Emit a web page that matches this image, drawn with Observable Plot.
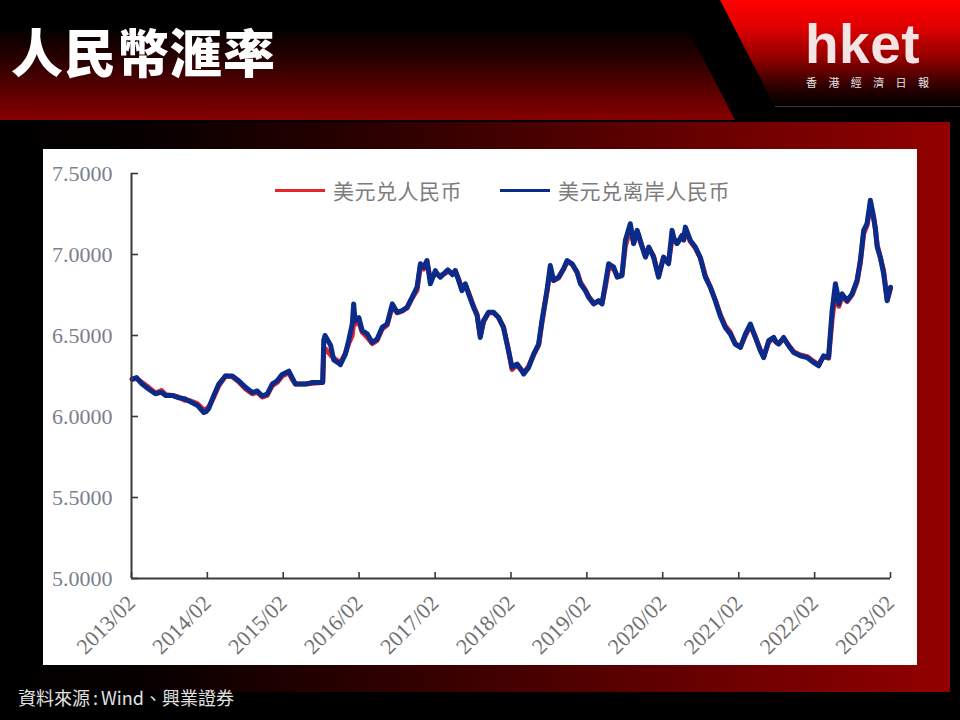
<!DOCTYPE html>
<html><head><meta charset="utf-8">
<script src="https://cdn.jsdelivr.net/npm/d3@7"></script>
<script src="https://cdn.jsdelivr.net/npm/@observablehq/plot@0.6"></script>
<style>
html,body{margin:0;padding:0;background:#000;}
#page{position:relative;width:960px;height:720px;overflow:hidden;background:#000;font-family:"Noto Sans CJK TC","Noto Sans CJK SC",sans-serif;}
.hdr{position:absolute;left:0;top:0;width:960px;height:120px;clip-path:polygon(0 0,673px 0,735px 120px,0 120px);background:linear-gradient(to bottom,#000 0%,#000 22%,#2a0000 50%,#5a0000 75%,#860000 100%);}
.logo-bg{position:absolute;left:0;top:0;width:960px;height:107px;clip-path:polygon(720px 0,960px 0,960px 107px,775px 107px);background:linear-gradient(to bottom,#ff0000 0%,#e00000 25%,#900000 55%,#300000 80%,#000 100%);}
.logo-line{position:absolute;left:775px;top:106px;width:185px;height:1px;background:#3a3a3a;}
.title{position:absolute;left:11px;top:25px;font-size:52px;line-height:1;font-weight:900;color:#fff;letter-spacing:1px;white-space:nowrap;}
.hket{position:absolute;left:805px;top:17px;font-family:"Liberation Sans","Open Sans",sans-serif;font-size:55px;font-weight:700;line-height:55px;color:#f5e4e4;letter-spacing:0.5px;white-space:nowrap;}
.hket-sub{position:absolute;left:806px;top:77px;font-size:11px;line-height:11px;color:#e6e6e6;letter-spacing:11.4px;white-space:nowrap;}
.panel{position:absolute;left:0;top:122px;width:950px;height:570px;background:linear-gradient(to right,#000 0%,#060000 14%,#300000 42%,#6a0000 75%,#920000 100%);}
.white{position:absolute;left:43px;top:149px;width:874px;height:516px;background:#fff;}
.legend{position:absolute;top:178px;height:24px;display:flex;align-items:center;font-family:"Noto Sans CJK SC",sans-serif;font-size:21px;color:#7c7c7c;letter-spacing:0.5px;white-space:nowrap;}
.legend .sw{display:inline-block;width:50px;height:3px;margin-right:8px;}
.caption{position:absolute;left:18px;top:687px;font-size:18px;line-height:1.2;color:#e2e2e2;white-space:nowrap;}
.caption .colon{margin:0 3px;}
</style>
</head><body>
<div id="page">
  <div class="hdr"></div>
  <div class="logo-bg"></div>
  <div class="logo-line"></div>
  <div class="title">人民幣滙率</div>
  <div class="hket">hket</div>
  <div class="hket-sub">香港經濟日報</div>
  <div class="panel"></div>
  <div class="white"><div id="chart"></div></div>
  <div class="legend" style="left:275px"><span class="sw" style="background:#e3262b"></span>美元兑人民币</div>
  <div class="legend" style="left:500px"><span class="sw" style="background:#0a2b8a"></span>美元兑离岸人民币</div>
  <div class="caption">資料來源<span class="colon">:</span>Wind、興業證券</div>
</div>
<script>
// ---- data ----
const dates = [
"2013-02-04","2013-02-25","2013-03-24","2013-04-24","2013-05-27","2013-06-25","2013-07-15","2013-08-17","2013-09-17","2013-10-15",
"2013-11-04","2013-12-14","2014-01-15","2014-01-26","2014-02-08","2014-03-04","2014-03-28","2014-04-29","2014-06-01","2014-07-02",
"2014-08-04","2014-09-05","2014-09-29","2014-10-23","2014-11-16","2014-12-10","2015-01-03","2015-01-27","2015-02-28","2015-03-16",
"2015-04-01","2015-05-19","2015-06-22","2015-08-04","2015-08-10","2015-08-15","2015-08-21","2015-09-17","2015-10-02","2015-10-26",
"2015-11-03","2015-11-27","2015-12-13","2015-12-30","2016-01-06","2016-01-13","2016-01-31","2016-02-16","2016-03-11","2016-04-04",
"2016-04-28","2016-05-22","2016-06-15","2016-07-10","2016-08-02","2016-08-26","2016-09-19","2016-10-13","2016-11-06","2016-11-22",
"2016-12-08","2016-12-24","2017-01-09","2017-02-02","2017-02-14","2017-02-26","2017-03-22","2017-04-03","2017-04-15","2017-04-26",
"2017-05-09","2017-05-25","2017-06-10","2017-06-26","2017-07-12","2017-08-05","2017-08-22","2017-09-06","2017-09-22","2017-10-16",
"2017-11-09","2017-12-03","2017-12-27","2018-01-20","2018-02-06","2018-03-02","2018-03-26","2018-04-03","2018-04-27","2018-05-21",
"2018-06-14","2018-06-30","2018-07-24","2018-08-09","2018-08-25","2018-09-18","2018-10-12","2018-10-29","2018-11-22","2018-12-16",
"2019-01-01","2019-01-25","2019-02-10","2019-03-06","2019-03-30","2019-04-15","2019-05-01","2019-05-17","2019-06-10","2019-06-27",
"2019-07-20","2019-08-05","2019-08-29","2019-09-05","2019-09-14","2019-10-01","2019-10-08","2019-10-16","2019-11-10","2019-11-26",
"2019-12-19","2020-01-12","2020-02-05","2020-02-29","2020-03-17","2020-03-26","2020-04-10","2020-05-04","2020-05-12","2020-05-20",
"2020-06-13","2020-07-07","2020-07-31","2020-08-24","2020-09-17","2020-10-11","2020-11-04","2020-11-28","2020-12-22","2021-01-15",
"2021-02-09","2021-03-05","2021-03-29","2021-04-22","2021-05-16","2021-06-01","2021-06-25","2021-07-19","2021-07-30","2021-08-12",
"2021-09-05","2021-09-29","2021-10-23","2021-11-24","2021-12-27","2022-01-27","2022-02-20","2022-03-16","2022-04-09","2022-04-26",
"2022-05-12","2022-05-20","2022-05-28","2022-06-13","2022-07-07","2022-07-31","2022-08-24","2022-09-09","2022-09-25","2022-10-11",
"2022-10-19","2022-10-27","2022-11-12","2022-11-20","2022-11-29","2022-12-14","2022-12-30","2023-01-16","2023-01-24","2023-02-01"
];
const offshore = [
6.23,6.24,6.20,6.17,6.14,6.15,6.13,6.13,6.115,6.11,
6.095,6.07,6.025,6.03,6.05,6.13,6.20,6.25,6.25,6.22,
6.18,6.148,6.158,6.127,6.138,6.20,6.22,6.26,6.28,6.24,
6.20,6.20,6.21,6.21,6.21,6.47,6.50,6.44,6.35,6.33,
6.32,6.385,6.47,6.57,6.695,6.59,6.61,6.53,6.51,6.457,
6.478,6.55,6.571,6.695,6.643,6.653,6.674,6.736,6.798,6.943,
6.922,6.963,6.819,6.90,6.875,6.86,6.891,6.905,6.891,6.875,
6.90,6.84,6.777,6.819,6.757,6.674,6.623,6.488,6.592,6.643,
6.643,6.612,6.55,6.406,6.303,6.324,6.282,6.262,6.303,6.385,
6.447,6.592,6.777,6.932,6.84,6.86,6.912,6.963,6.943,6.891,
6.819,6.777,6.736,6.695,6.715,6.695,6.819,6.943,6.922,6.86,
6.87,7.087,7.19,7.14,7.067,7.149,7.12,7.087,6.984,7.046,
6.984,6.86,6.984,6.943,7.149,7.10,7.067,7.118,7.09,7.169,
7.087,7.046,6.98,6.86,6.798,6.715,6.62,6.55,6.51,6.447,
6.426,6.51,6.571,6.488,6.406,6.364,6.468,6.488,6.46,6.447,
6.488,6.437,6.395,6.375,6.364,6.334,6.313,6.375,6.364,6.653,
6.819,6.77,6.695,6.757,6.715,6.757,6.84,6.963,7.149,7.19,
7.26,7.335,7.231,7.16,7.046,6.984,6.881,6.715,6.76,6.798
];
const onshore = [
6.23,6.235,6.21,6.18,6.145,6.16,6.135,6.13,6.12,6.10,
6.10,6.08,6.04,6.045,6.06,6.12,6.19,6.25,6.245,6.215,
6.17,6.14,6.15,6.12,6.13,6.19,6.21,6.25,6.27,6.23,
6.20,6.20,6.205,6.21,6.21,6.40,6.42,6.38,6.36,6.34,
6.33,6.39,6.45,6.50,6.58,6.57,6.58,6.52,6.49,6.45,
6.47,6.54,6.565,6.68,6.64,6.65,6.67,6.73,6.78,6.93,
6.91,6.95,6.85,6.88,6.875,6.87,6.885,6.895,6.89,6.88,
6.90,6.85,6.79,6.815,6.765,6.68,6.63,6.50,6.585,6.64,
6.64,6.61,6.55,6.41,6.29,6.32,6.28,6.27,6.31,6.38,
6.44,6.58,6.77,6.90,6.84,6.855,6.91,6.955,6.94,6.89,
6.83,6.78,6.74,6.70,6.71,6.70,6.80,6.92,6.91,6.87,
6.875,7.05,7.16,7.13,7.07,7.14,7.12,7.08,6.99,7.04,
6.99,6.87,6.98,6.95,7.10,7.09,7.07,7.11,7.09,7.15,
7.08,7.04,6.98,6.87,6.80,6.72,6.63,6.56,6.52,6.45,
6.43,6.50,6.56,6.49,6.41,6.37,6.46,6.48,6.46,6.45,
6.48,6.44,6.40,6.38,6.37,6.34,6.32,6.37,6.36,6.60,
6.77,6.75,6.68,6.74,6.71,6.75,6.83,6.95,7.13,7.18,
7.24,7.28,7.22,7.16,7.06,6.98,6.90,6.72,6.75,6.79
];
const yTicks = [5.0, 5.5, 6.0, 6.5, 7.0, 7.5];
const xTickLabels = ["2013/02","2014/02","2015/02","2016/02","2017/02","2018/02","2019/02","2020/02","2021/02","2022/02","2023/02"];

// ---- build ----
const parse = d3.utcParse("%Y-%m-%d");
const parseTick = d3.utcParse("%Y/%m");
const n = Math.min(dates.length, offshore.length, onshore.length);
const data = dates.slice(0, n).map((d, i) => ({date: parse(d), onshore: onshore[i], offshore: offshore[i]}));
const xTicks = xTickLabels.map(parseTick);
const axisColor = "#3a3a3a";

const chart = Plot.plot({
  width: 874,
  height: 516,
  marginLeft: 88,
  marginRight: 27,
  marginTop: 24,
  marginBottom: 87,
  style: {fontFamily: "'Liberation Serif','Times New Roman',serif", fontSize: "22px", background: "transparent", overflow: "visible"},
  x: {type: "utc", domain: [xTicks[0], xTicks[xTicks.length - 1]]},
  y: {domain: [5, 7.5]},
  marks: [
    Plot.line(data, {x: "date", y: "onshore", stroke: "#e3262b", strokeWidth: 5, strokeLinejoin: "round", strokeLinecap: "round"}),
    Plot.line(data, {x: "date", y: "offshore", stroke: "#0a2b8a", strokeWidth: 5, strokeLinejoin: "round", strokeLinecap: "round"}),
    Plot.ruleX([xTicks[0]], {stroke: axisColor, strokeWidth: 2}),
    Plot.ruleY([5], {stroke: axisColor, strokeWidth: 2}),
    Plot.axisY(yTicks, {tickSize: 7, insetLeft: 7, tickFormat: () => "", stroke: axisColor, strokeWidth: 1.6, label: null}),
    Plot.axisY(yTicks, {tickSize: 0, tickPadding: 19, tickFormat: d => d.toFixed(4), fill: "#7a808c", label: null}),
    Plot.axisX(xTicks, {tickSize: 6, insetBottom: 6, tickFormat: () => "", stroke: axisColor, strokeWidth: 1.6, label: null}),
    Plot.axisX(xTicks, {tickSize: 0, tickPadding: 26, tickRotate: -45, textAnchor: "end", lineAnchor: "bottom", dx: 5, tickFormat: d3.utcFormat("%Y/%m"), fill: "#707070", label: null})
  ]
});
document.getElementById("chart").appendChild(chart);
</script>
</body></html>
